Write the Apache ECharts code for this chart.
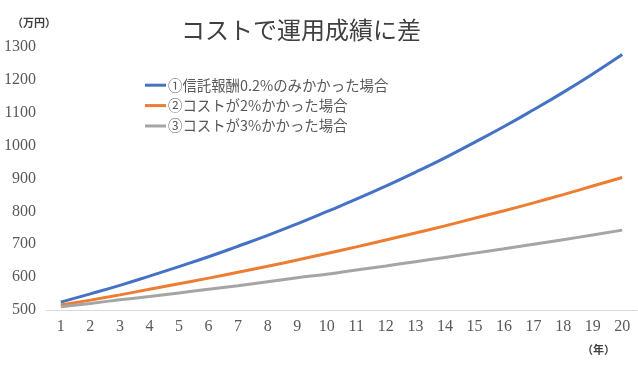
<!DOCTYPE html>
<html><head><meta charset="utf-8">
<script src="https://cdn.jsdelivr.net/npm/echarts@6/dist/echarts.min.js"></script>
<style>html,body{margin:0;padding:0;background:#fff}#c{width:638px;height:366px}</style>
</head><body><div id="c"></div>
<script>
const years = ['1','2','3','4','5','6','7','8','9','10','11','12','13','14','15','16','17','18','19','20'];
const seriesNames = ['①信託報酬0.2%のみかかった場合','②コストが2%かかった場合','③コストが3%かかった場合'];
const blue = [524,549,575,603,632,662,694,727,762,799,837,877,919,963,1010,1058,1109,1162,1218,1277];
const orange = [515,530,546,563,580,597,615,633,652,672,692,713,734,756,779,802,826,851,877,903];
const gray = [510,520,531,541,552,563,574,586,598,609,622,634,647,660,673,686,700,714,728,743];
const colors = ['#4472C4','#ED7D31','#A5A5A5'];
const jp = '"Noto Sans CJK JP", sans-serif';
const num = '"Liberation Serif", serif';
const chart = echarts.init(document.getElementById('c'));
const mk = (name, data, color) => ({
  name, type: 'line', data, smooth: true, showSymbol: false, symbol: 'none',
  lineStyle: { width: 3, color }, itemStyle: { color }
});
chart.setOption({
  animation: false,
  title: { text: 'コストで運用成績に差', left: 176, top: 13,
    textStyle: { fontFamily: jp, fontSize: 24, fontWeight: 'normal', color: '#404040' } },
  legend: { orient: 'vertical', left: 140, top: 73, itemGap: 6, itemWidth: 21, itemHeight: 3,
    icon: 'rect',
    data: seriesNames,
    textStyle: { fontFamily: jp, fontSize: 14.4, color: '#595959', padding: [0,0,0,-3] } },
  grid: { left: 46, right: 1, top: 47, bottom: 56 },
  xAxis: { type: 'category', data: years, boundaryGap: true,
    axisLine: { lineStyle: { color: '#D9D9D9', width: 1 } }, axisTick: { show: false },
    axisLabel: { margin: 9, fontFamily: num, fontSize: 16, color: '#595959' } },
  yAxis: { type: 'value', min: 500, max: 1300, interval: 100,
    axisLine: { show: false }, axisTick: { show: false }, splitLine: { show: false },
    axisLabel: { margin: 10, fontFamily: num, fontSize: 16, color: '#595959',
      formatter: v => String(v) } },
  graphic: [
    { type: 'text', left: 12, top: 17, style: { text: '（万円）', font: 'bold 11px ' + jp, fill: '#404040' } },
    { type: 'text', left: 582, top: 344, style: { text: '（年）', font: 'bold 11px ' + jp, fill: '#404040' } }
  ],
  series: [mk(seriesNames[0], blue, colors[0]), mk(seriesNames[1], orange, colors[1]), mk(seriesNames[2], gray, colors[2])]
});
</script></body></html>
